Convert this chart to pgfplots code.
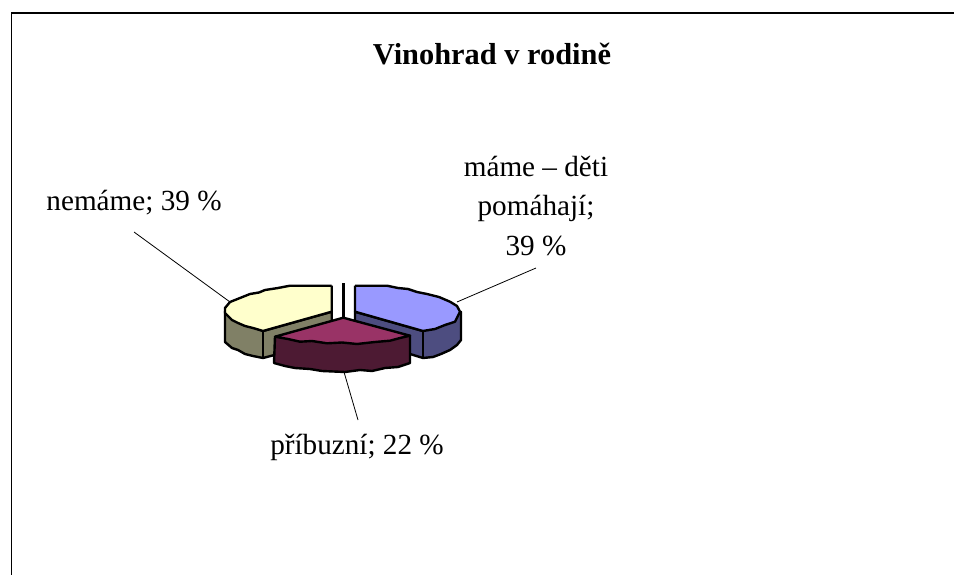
\documentclass[border=0pt]{standalone}
\usepackage{fontspec}
\setmainfont{Liberation Serif}
\usepackage{pgfplots}
\pgfplotsset{compat=1.18}
\begin{document}
\begin{tikzpicture}
\useasboundingbox (0,0) rectangle (954bp,575bp);
\begin{axis}[scale only axis,width=954bp,height=575bp,hide axis,
  xmin=0,xmax=954,ymin=0,ymax=575,y dir=reverse,clip=true,
  pie/.style={draw=black,line width=2.4bp,line join=round}]
% frame
\addplot[draw=black,line width=1.4bp] coordinates {(11.5,580)(11.5,13)(960,13)};
% yellow slice (nemame)
\addplot[pie,fill={rgb,255:red,128;green,128;blue,102}] coordinates {(225,311)(225,342)(232,348)(238,350)(245,354)(253,356)(263,358)(331.7,340)(331.7,311.7)(263,331)(225,311)};
\addplot[pie] coordinates {(263,331)(263,358)};
\addplot[pie,fill={rgb,255:red,255;green,255;blue,204}] coordinates {(331.7,285.7)(290,285.7)(278,288)(265,290)(259,292.5)(250,294)(240,298)(230,302)(225,308)(225,313)(232,320)(238,323)(245,326)(253,328)(263,331)(331.7,311.7)(331.7,285.7)};
% blue slice (mame)
\addplot[pie,fill={rgb,255:red,77;green,77;blue,128}] coordinates {(355,311.7)(355,340)(410,354)(423,358)(433,357)(441,354)(450,350)(457,345)(461,340)(461,312)(423,331)(355,311.7)};
\addplot[pie] coordinates {(423,331)(423,358)};
\addplot[pie,fill={rgb,255:red,153;green,153;blue,255}] coordinates {(355,285.7)(387,285.7)(398,288)(408,289)(417,292)(427,294)(439,297)(450,301.7)(457,306)(460,311.7)(455,321.7)(445,325)(435,329)(423,331)(355,311.7)(355,285.7)};
% purple slice (pribuzni)
\addplot[pie,fill={rgb,255:red,77;green,26;blue,51}] coordinates {(275,336.7)(274,363)(285,366)(295,368)(310,369)(322,371)(345,372)(360,370)(372,371)(385,368)(398,367)(410,363)(410,335.7)(275,336.7)};
\addplot[pie,fill={rgb,255:red,153;green,51;blue,102}] coordinates {(343.3,317.7)(410,335.7)(400,338)(390,340.7)(375,342)(357,344)(342,342.5)(327,343.3)(312,341)(300,341.7)(288,339)(275,336.7)(343.3,317.7)};
\addplot[draw=black,line width=3bp] coordinates {(343.5,283)(343.5,318)};
% leader lines
\addplot[draw=black,line width=0.8bp] coordinates {(134,232)(230,302)};
\addplot[draw=black,line width=0.8bp] coordinates {(536,268)(457,302)};
\addplot[draw=black,line width=0.8bp] coordinates {(344,372)(358,420)};
% text
\node[font=\fontsize{30.5}{36}\selectfont\bfseries] at (axis cs:492,54) {Vinohrad v rodině};
\node[font=\fontsize{29.3}{40}\selectfont,align=center] at (axis cs:536,206) {máme – děti\\pomáhají;\\39 \%};
\node[font=\fontsize{29.3}{35}\selectfont] at (axis cs:134,203) {nemáme; 39 \%};
\node[font=\fontsize{29.3}{35}\selectfont] at (axis cs:357,447) {příbuzní; 22 \%};
\end{axis}
\end{tikzpicture}
\end{document}
